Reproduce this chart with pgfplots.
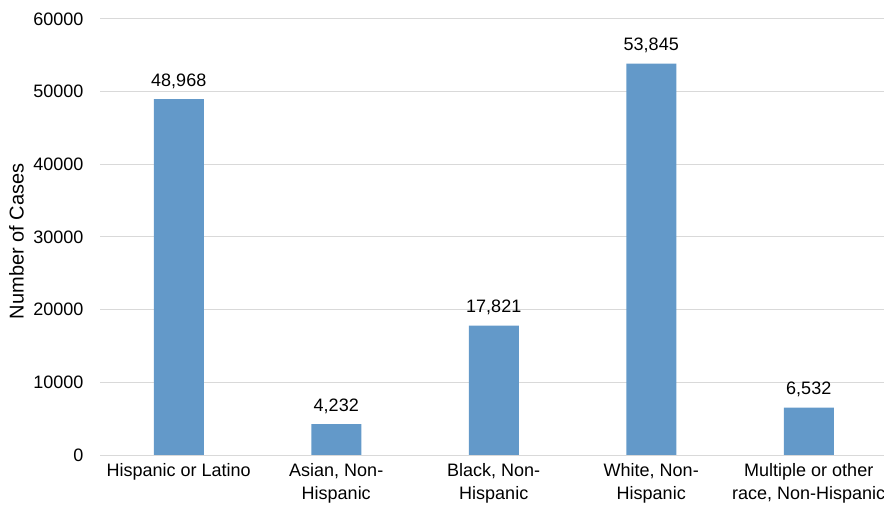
\documentclass[border=0pt]{standalone}
\usepackage{pgfplots}
\pgfplotsset{compat=1.18}
\usepackage{fontspec}
\setmainfont{Liberation Sans}
\definecolor{barblue}{RGB}{99,153,201}
\definecolor{gridgray}{RGB}{217,217,217}
\begin{document}
\begin{tikzpicture}
\begin{axis}[
  at={(100bp,53bp)}, anchor=south west,
  scale only axis, width=787.5bp, height=436bp,
  xmin=-0.5, xmax=4.5, ymin=0, ymax=60000,
  ytick={0,10000,...,60000},
  xtick={0,1,2,3,4},
  xticklabels={Hispanic or Latino,{Asian, Non-\\Hispanic},{Black, Non-\\Hispanic},{White, Non-\\Hispanic},{Multiple or other\\race, Non-Hispanic}},
  xticklabel style={align=center, font=\fontsize{18bp}{23bp}\selectfont, text=black, anchor=north, yshift=-5bp},
  yticklabel style={font=\fontsize{18bp}{20bp}\selectfont, text=black, xshift=-13bp},
  /pgf/number format/assume math mode=true,
  /pgf/number format/1000 sep={},
  scaled y ticks=false,
  axis line style={draw=none},
  major tick length=0pt,
  ymajorgrids, grid style={gridgray, line width=1bp},
  ylabel={Number of Cases},
  ylabel style={at={(axis description cs:-0.106,0.49)}, anchor=center, font=\fontsize{20bp}{22bp}\selectfont, text=black},
  clip=false,
]
\addplot[ybar, bar width=50bp, fill=barblue, draw=none,
  nodes near coords={\pgfmathprintnumber[1000 sep={,}]{\pgfplotspointmeta}},
  nodes near coords style={font=\fontsize{18bp}{20bp}\selectfont, text=black, yshift=7bp}]
  coordinates {(0,48968) (1,4232) (2,17821) (3,53845) (4,6532)};
\draw[gridgray, line width=1bp] (axis cs:-0.5,0) -- (axis cs:4.5,0);
\end{axis}
\pgfresetboundingbox
\path[use as bounding box] (0,0) rectangle (884bp,508bp);
\end{tikzpicture}
\end{document}
